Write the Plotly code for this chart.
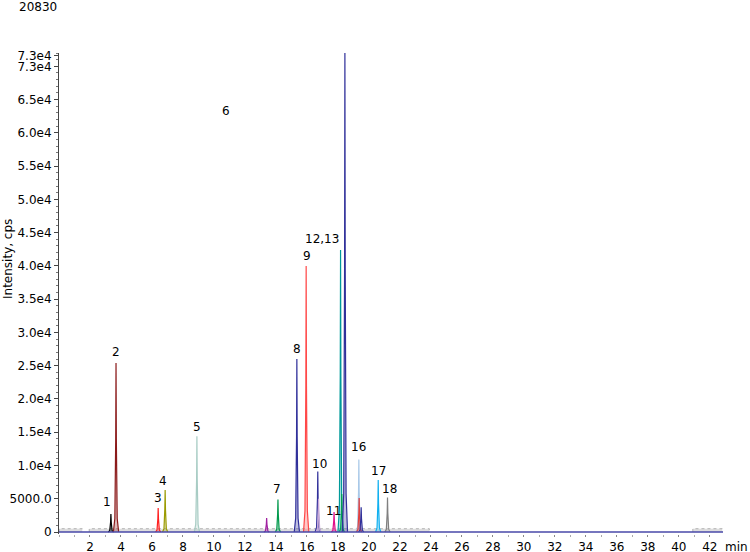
import plotly.graph_objects as go

# ---- data ----
peak_rt = [3.35, 3.68, 6.40, 6.85, 8.90, 13.40, 14.13, 15.35, 15.95, 16.70, 16.75, 17.75,
           18.17, 18.25, 18.45, 19.35, 19.37, 19.50, 20.60, 21.20]
peak_height = [2700, 25400, 3600, 6300, 14400, 2100, 4900, 26000, 40000, 9100, 5000, 3000,
               42400, 5700, 72000, 10900, 5100, 3700, 7800, 5200]
peak_color = ["#000000", "#8b1a1a", "#ff2020", "#9a9a00", "#a8ccc4", "#a020a0", "#00994c",
              "#30309a", "#ff4848", "#30309a", "#c8a8d8", "#e0108a", "#009a9a", "#00a050",
              "#30309a", "#a8c8e8", "#e04040", "#30309a", "#10b0f0", "#808080"]

label_text = ["1", "2", "3", "4", "5", "6", "7", "8", "9", "10", "11", "12,13", "14,15",
              "16", "17", "18"]
label_rt = [3.1, 3.68, 6.39, 6.7, 8.9, 10.8, 14.1, 15.35, 16.0, 16.8, 17.7, 17.0, 18.3,
            19.35, 20.6, 21.35]
label_int = [4500, 27000, 5100, 7600, 15800, 63300, 6500, 27500, 41500, 10200, 3200, 44000,
             73500, 12800, 9200, 6500]

noise_start = [0.0, 1.95, 40.9]
noise_end = [1.5, 23.9, 42.8]
noise_level = 500

y_tickvals = [0, 5000, 10000, 15000, 20000, 25000, 30000, 35000, 40000, 45000, 50000,
              55000, 60000, 65000, 70000, 71600]
y_ticktext = ["0", "5000.0", "1.0e4", "1.5e4", "2.0e4", "2.5e4", "3.0e4", "3.5e4", "4.0e4",
              "4.5e4", "5.0e4", "5.5e4", "6.0e4", "6.5e4", "7.3e4", "7.3e4"]
x_tickvals = list(range(2, 43, 2))
x_end = 42.85
max_label = "20830"


def rgba(hexc, a):
    h = hexc.lstrip("#")
    r, g, b = int(h[0:2], 16), int(h[2:4], 16), int(h[4:6], 16)
    return f"rgba({r},{g},{b},{a})"


fig = go.Figure()

# baseline noise bands
for s, e in zip(noise_start, noise_end):
    fig.add_trace(go.Scatter(
        x=[s, s, e, e], y=[0, noise_level, noise_level, 0], mode="lines",
        fill="toself", fillcolor="rgba(160,160,160,0.35)",
        line=dict(color="rgba(140,140,140,0.6)", width=1, dash="dot"),
        hoverinfo="skip", showlegend=False))

# peaks
hw = 0.17
for t, h, c in zip(peak_rt, peak_height, peak_color):
    xs = [t - hw, t - hw * 0.45, t - hw * 0.12, t, t + hw * 0.12, t + hw * 0.45, t + hw]
    ys = [0, h * 0.08, h * 0.55, h, h * 0.55, h * 0.08, 0]
    fig.add_trace(go.Scatter(
        x=xs, y=ys, mode="lines", fill="toself", fillcolor=rgba(c, 0.3),
        line=dict(color=c, width=1.2), hoverinfo="skip", showlegend=False))

# blue baseline
fig.add_trace(go.Scatter(x=[0, x_end], y=[0, 0], mode="lines",
                         line=dict(color="#4848a8", width=1.6),
                         hoverinfo="skip", showlegend=False))

font = dict(family="DejaVu Sans", size=12, color="#000000")

for txt, t, v in zip(label_text, label_rt, label_int):
    fig.add_annotation(x=t, y=v, text=txt, showarrow=False, font=font,
                       xref="x", yref="y", xanchor="center", yanchor="middle")

plot_l, plot_r, plot_t, plot_b = 59, 723, 53, 534
pw, ph = plot_r - plot_l, plot_b - plot_t


def px(xp):
    return (xp - plot_l) / pw


def py(yp):
    return (plot_b - yp) / ph


fig.add_annotation(x=px(38), y=py(7), xref="paper", yref="paper", text=max_label,
                   showarrow=False, font=font, xanchor="center", yanchor="middle")
fig.add_annotation(x=px(8), y=py(259), xref="paper", yref="paper", text="Intensity, cps",
                   textangle=-90, showarrow=False, font=font,
                   xanchor="center", yanchor="middle")
fig.add_annotation(x=px(736), y=py(547), xref="paper", yref="paper", text="min",
                   showarrow=False, font=font, xanchor="center", yanchor="middle")

fig.update_layout(
    width=750, height=552,
    margin=dict(l=plot_l, r=750 - plot_r, t=plot_t, b=552 - plot_b, autoexpand=False),
    paper_bgcolor="white", plot_bgcolor="white",
    font=font,
    xaxis=dict(range=[0, x_end], tickmode="array", tickvals=x_tickvals,
               ticktext=[str(v) for v in x_tickvals], ticks="outside", ticklen=2,
               tickcolor="#888888", showgrid=False, zeroline=False, showline=False,
               tickfont=font, automargin=False,
               minor=dict(dtick=1, tick0=0, ticks="outside", ticklen=2,
                          tickcolor="#aaaaaa", showgrid=False)),
    yaxis=dict(range=[-300, 72000], tickmode="array", tickvals=y_tickvals,
               ticktext=y_ticktext, ticks="outside", ticklen=4, tickcolor="#444444",
               showgrid=False, zeroline=False, showline=True, linecolor="#444444",
               linewidth=1, tickfont=font, automargin=False,
               minor=dict(dtick=1000, tick0=0, ticks="outside", ticklen=2,
                          tickcolor="#777777", showgrid=False)),
)

fig.write_html("out.html")
